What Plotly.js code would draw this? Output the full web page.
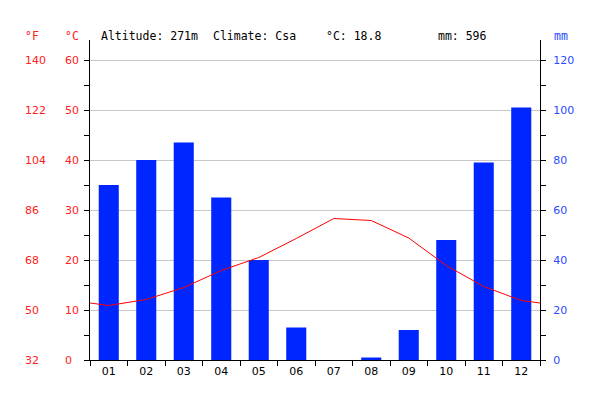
<!DOCTYPE html>
<html>
<head>
<meta charset="utf-8">
<script src="https://cdn.plot.ly/plotly-3.0.1.min.js"></script>
<style>html,body{margin:0;padding:0;background:#fff;}#chart{width:600px;height:400px;}</style>
</head>
<body>
<div id="chart"></div>
<script>
// Data
const months = ['01','02','03','04','05','06','07','08','09','10','11','12'];
const precipitation = [70, 80, 87, 65, 40, 13, 0, 1, 12, 48, 79, 101]; // mm
const temperature = [10.9, 12.1, 14.5, 17.9, 20.5, 24.3, 28.3, 27.9, 24.4, 18.9, 14.7, 11.9]; // °C
const celsiusTicks = [0, 10, 20, 30, 40, 50, 60];
const fahrenheitLabels = ['32', '50', '68', '86', '104', '122', '140'];
const mmTicks = [0, 20, 40, 60, 80, 100, 120];
const headerAltitude = 'Altitude: 271m';
const headerClimate = 'Climate: Csa';
const headerTemp = '°C: 18.8';
const headerPrecip = 'mm: 596';

const monthPos = months.map((m, i) => i + 1);
const edgeTemp = (temperature[0] + temperature[temperature.length - 1]) / 2;
const lineX = [0.5].concat(monthPos, [12.5]);
const lineY = [edgeTemp].concat(temperature, [edgeTemp]);

const RED = '#ff2020';
const BLUE = '#2a4bff';
const L = 90, R = 540;
const px = v => (v - L) / (R - L);

const traces = [
  {
    type: 'bar', x: monthPos, y: precipitation, yaxis: 'y', xaxis: 'x',
    width: 0.535, marker: {color: '#0026ff', line: {width: 0}},
    hoverinfo: 'skip'
  },
  {
    type: 'scatter', mode: 'lines', x: lineX, y: lineY, yaxis: 'y2', xaxis: 'x',
    line: {color: '#ff0000', width: 1}, hoverinfo: 'skip'
  }
];

const annotations = [];
celsiusTicks.forEach((c, i) => {
  annotations.push({xref: 'paper', yref: 'y2', x: px(23), y: c, text: fahrenheitLabels[i],
    xanchor: 'left', yanchor: 'middle', showarrow: false,
    font: {family: 'DejaVu Sans', size: 11, color: RED}});
  annotations.push({xref: 'paper', yref: 'y2', x: px(63), y: c, text: String(c),
    xanchor: 'left', yanchor: 'middle', showarrow: false,
    font: {family: 'DejaVu Sans', size: 11, color: RED}});
});
const headFont = {family: 'DejaVu Sans Mono', size: 11.5, color: '#000'};
const headY = 1 + (40 - 36.5) / 320;
[[23, '°F', RED], [63, '°C', RED], [552, 'mm', BLUE]].forEach(h => {
  annotations.push({xref: 'paper', yref: 'paper', x: px(h[0]), y: headY, text: h[1],
    xanchor: 'left', yanchor: 'middle', showarrow: false,
    font: {family: 'DejaVu Sans Mono', size: 11.5, color: h[2]}});
});
[[99, headerAltitude], [211, headerClimate], [324, headerTemp], [436, headerPrecip]].forEach(h => {
  annotations.push({xref: 'paper', yref: 'paper', x: px(h[0]), y: headY, text: h[1],
    xanchor: 'left', yanchor: 'middle', showarrow: false, font: headFont});
});

const layout = {
  width: 600, height: 400,
  margin: {l: 90, r: 60, t: 40, b: 40, pad: 0},
  paper_bgcolor: '#fff', plot_bgcolor: '#fff',
  showlegend: false,
  font: {family: 'DejaVu Sans', size: 11, color: '#000'},
  xaxis: {
    range: [0.5, 12.5], tickvals: monthPos, ticktext: months,
    ticks: '', showgrid: false, zeroline: false,
    showline: true, linecolor: '#000', linewidth: 1,
    tickfont: {family: 'DejaVu Sans', size: 11, color: '#000'},
    ticklabelstandoff: 1,
    minor: {tick0: 0.5, dtick: 1, ticks: 'outside', ticklen: 5, tickcolor: '#000', showgrid: false}
  },
  yaxis: {
    side: 'right', range: [0, 128], tickvals: mmTicks,
    ticks: 'outside', ticklen: 5, tickcolor: '#000',
    showline: true, linecolor: '#000', linewidth: 1,
    showgrid: true, gridcolor: '#c8c8c8', gridwidth: 1, zeroline: false,
    tickfont: {family: 'DejaVu Sans', size: 11, color: BLUE},
    ticklabelstandoff: 5,
    minor: {dtick: 10, tick0: 0, ticks: 'outside', ticklen: 5, tickcolor: '#000', showgrid: false}
  },
  yaxis2: {
    overlaying: 'y', side: 'left', range: [0, 64], tickvals: celsiusTicks,
    showticklabels: false, ticks: 'outside', ticklen: 5, tickcolor: '#000',
    showline: true, linecolor: '#000', linewidth: 1,
    showgrid: false, zeroline: false,
    minor: {dtick: 5, tick0: 0, ticks: 'outside', ticklen: 5, tickcolor: '#000', showgrid: false}
  },
  annotations: annotations
};

Plotly.newPlot('chart', traces, layout, {displayModeBar: false, staticPlot: true});
</script>
</body>
</html>
